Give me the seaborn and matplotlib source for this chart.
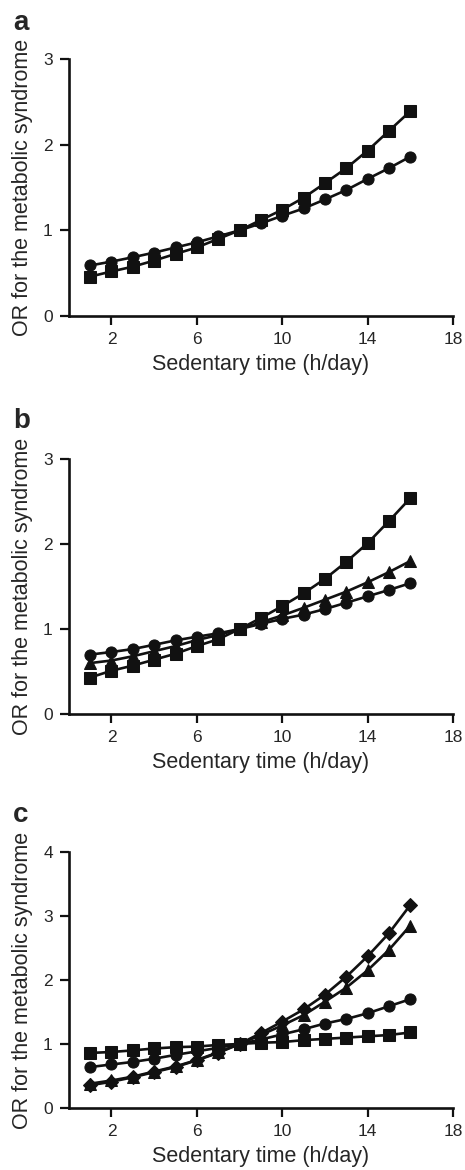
import numpy as np
import pandas as pd
import matplotlib.pyplot as plt
import seaborn as sns

sns.set_style("ticks")
plt.rcParams['font.family'] = ['Liberation Sans', 'DejaVu Sans']

hours = list(range(1, 17))

# panel a
a_circle = [0.59, 0.635, 0.686, 0.74, 0.80, 0.86, 0.93, 1.0, 1.08, 1.17, 1.255, 1.36, 1.47, 1.60, 1.725, 1.86]
a_square = [0.46, 0.52, 0.576, 0.647, 0.725, 0.80, 0.90, 1.0, 1.12, 1.24, 1.38, 1.55, 1.725, 1.93, 2.16, 2.39]

# panel b
b_circle = [0.70, 0.73, 0.765, 0.815, 0.867, 0.91, 0.95, 1.0, 1.06, 1.12, 1.17, 1.235, 1.31, 1.385, 1.46, 1.54]
b_triangle = [0.60, 0.63, 0.68, 0.74, 0.80, 0.87, 0.93, 1.0, 1.08, 1.16, 1.25, 1.345, 1.44, 1.55, 1.67, 1.80]
b_square = [0.43, 0.51, 0.57, 0.64, 0.71, 0.80, 0.88, 1.0, 1.13, 1.27, 1.42, 1.59, 1.79, 2.01, 2.27, 2.54]

# panel c
c_square = [0.86, 0.875, 0.90, 0.93, 0.95, 0.96, 0.985, 1.0, 1.02, 1.03, 1.06, 1.08, 1.10, 1.12, 1.14, 1.18]
c_circle = [0.64, 0.68, 0.72, 0.77, 0.83, 0.885, 0.94, 1.0, 1.07, 1.15, 1.23, 1.32, 1.39, 1.48, 1.59, 1.70]
c_triangle = [0.38, 0.43, 0.49, 0.57, 0.65, 0.75, 0.87, 1.0, 1.14, 1.29, 1.45, 1.66, 1.88, 2.15, 2.47, 2.85]
c_diamond = [0.355, 0.41, 0.48, 0.56, 0.64, 0.745, 0.86, 1.0, 1.17, 1.35, 1.54, 1.77, 2.05, 2.37, 2.73, 3.17]

x_ticks = [2, 6, 10, 14, 18]
x_label = 'Sedentary time (h/day)'
y_label = 'OR for the metabolic syndrome'

panels = [
    ('a', {'circle': a_circle, 'square': a_square}, 3),
    ('b', {'circle': b_circle, 'triangle': b_triangle, 'square': b_square}, 3),
    ('c', {'square': c_square, 'circle': c_circle, 'triangle': c_triangle, 'diamond': c_diamond}, 4),
]

marker_map = {'circle': 'o', 'square': 's', 'triangle': '^', 'diamond': 'D'}
size_map = {'circle': 8, 'square': 8, 'triangle': 8.5, 'diamond': 7}

fig = plt.figure(figsize=(4.65, 11.7), dpi=100)
positions = [
    [0.148, 0.7299, 0.826, 0.2197],
    [0.148, 0.3897, 0.826, 0.2179],
    [0.148, 0.0530, 0.826, 0.2188],
]
letter_y = [0.9744, 0.6342, 0.2974]

for (letter, series, ymax), pos, ly in zip(panels, positions, letter_y):
    ax = fig.add_axes(pos)
    rows = []
    for name, vals in series.items():
        for h, v in zip(hours, vals):
            rows.append({'hours': h, 'OR': v, 'shape': name})
    df = pd.DataFrame(rows)
    for name in series:
        sub = df[df['shape'] == name]
        sns.lineplot(data=sub, x='hours', y='OR', ax=ax, color='#111111',
                     marker=marker_map[name], markersize=size_map[name],
                     markeredgecolor='#111111', linewidth=1.9, legend=False)
    ax.set_xlim(0, 18)
    ax.set_ylim(0, ymax)
    ax.set_xticks(x_ticks)
    ax.set_yticks(range(0, ymax + 1))
    ax.set_xlabel(x_label, fontsize=15.5, labelpad=5)
    ax.set_ylabel(y_label, fontsize=15.5, labelpad=7)
    ax.tick_params(axis='both', labelsize=12.5, width=1.6, length=6.5,
                   color='#111111', pad=5)
    for s in ['top', 'right']:
        ax.spines[s].set_visible(False)
    for s in ['left', 'bottom']:
        ax.spines[s].set_linewidth(1.9)
        ax.spines[s].set_color('#111111')
    fig.text(0.028, ly, letter, fontsize=20, fontweight='bold',
             va='baseline', ha='left')

fig.savefig('out.png', dpi=100)
